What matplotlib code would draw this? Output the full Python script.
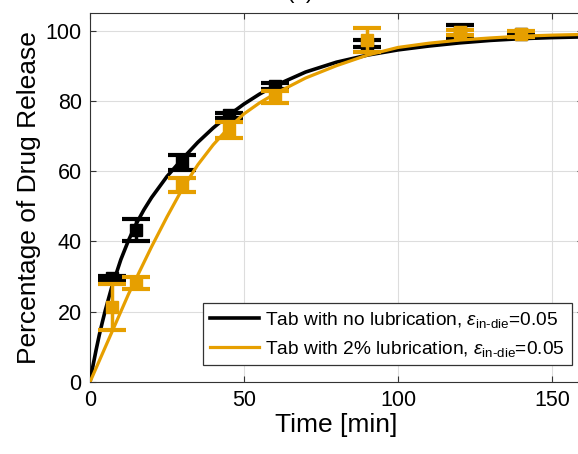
import matplotlib
matplotlib.use("Agg")
import matplotlib.pyplot as plt

plt.rcParams["font.family"] = ["Liberation Sans", "DejaVu Sans"]
plt.rcParams["mathtext.fontset"] = "custom"
plt.rcParams["mathtext.rm"] = "Liberation Sans"
plt.rcParams["mathtext.it"] = "Liberation Sans:italic"

ORANGE = "#E69F00"

# fitted release curves
t_fit = [0, 1, 2, 3, 4, 5, 7, 10, 12.5, 15, 17.5, 20, 25, 30, 35, 40, 45, 50,
         55, 60, 70, 80, 90, 100, 110, 120, 130, 140, 150, 160]
fit_nolub = [0, 4.8, 9.2, 13.3, 17, 20.5, 26.8, 34.8, 40.3, 45, 49, 52.5,
             58.5, 63.5, 68.2, 72.3, 75.9, 79.1, 81.9, 84.3, 88.2, 91, 93,
             94.5, 95.6, 96.5, 97.2, 97.7, 98.0, 98.2]
fit_lub = [0, 2, 4, 6, 8, 10, 14, 20, 25, 29.5, 34, 38.5, 47, 55, 61.8, 67.5,
           72.3, 76.3, 79.4, 82, 86.5, 90, 93, 95.2, 96.4, 97.3, 97.9, 98.4,
           98.7, 98.9]

# measured points with error bars
t_obs = [7, 15, 30, 45, 60, 90, 120, 140]
obs_nolub = [29.6, 43.3, 62.5, 75.9, 84.3, 96.3, 99.8, 99.0]
err_nolub = [0.5, 3.1, 2.1, 0.7, 0.8, 1.1, 1.8, 0.5]
obs_lub = [21.4, 28.2, 56.0, 71.8, 81.0, 97.4, 99.5, 99.1]
err_lub = [6.5, 1.8, 2.0, 2.3, 1.7, 3.4, 0.8, 0.8]

labels = [r"Tab with no lubrication, $\epsilon_{\mathrm{in\text{-}die}}$=0.05",
          r"Tab with 2% lubrication, $\epsilon_{\mathrm{in\text{-}die}}$=0.05"]

fig = plt.figure(figsize=(5.78, 4.54), dpi=100)
ax = fig.add_axes([90 / 578, 1 - 382 / 454, (3.08 * 160) / 578, 369 / 454])

ax.errorbar(t_obs, obs_nolub, yerr=err_nolub, fmt="s", color="black", ms=8,
            capsize=10, elinewidth=2.5, capthick=3, zorder=3)
ax.plot(t_fit, fit_nolub, color="black", lw=2.6, label=labels[0], zorder=4)
ax.errorbar(t_obs, obs_lub, yerr=err_lub, fmt="s", color=ORANGE, ms=8,
            capsize=10, elinewidth=2.5, capthick=3, zorder=5)
ax.plot(t_fit, fit_lub, color=ORANGE, lw=2.3, label=labels[1], zorder=6)

ax.set_xlim(0, 160)
ax.set_ylim(0, 105)
ax.set_xticks([0, 50, 100, 150])
ax.set_yticks([0, 20, 40, 60, 80, 100])
ax.grid(True, color="#dddddd", lw=0.8)
ax.set_axisbelow(True)
ax.tick_params(direction="in", top=True, right=True, labelsize=15.5,
               length=4, color="#333333", pad=6)
for s in ax.spines.values():
    s.set_color("#333333")
ax.set_xlabel("Time [min]", fontsize=19, labelpad=1)
ax.set_ylabel("Percentage of Drug Release", fontsize=19, labelpad=3)

leg = ax.legend(loc="lower right", bbox_to_anchor=(0.985, 0.035), fontsize=13.8,
                fancybox=False, edgecolor="#333333", framealpha=1,
                handlelength=2.6, handletextpad=0.3, borderpad=0.35,
                labelspacing=0.45, borderaxespad=0.2)
leg.get_frame().set_linewidth(0.9)

fig.text(0.519, 0.993, "(a)", fontsize=16, ha="center", va="bottom")

fig.savefig("out.png", dpi=100)
